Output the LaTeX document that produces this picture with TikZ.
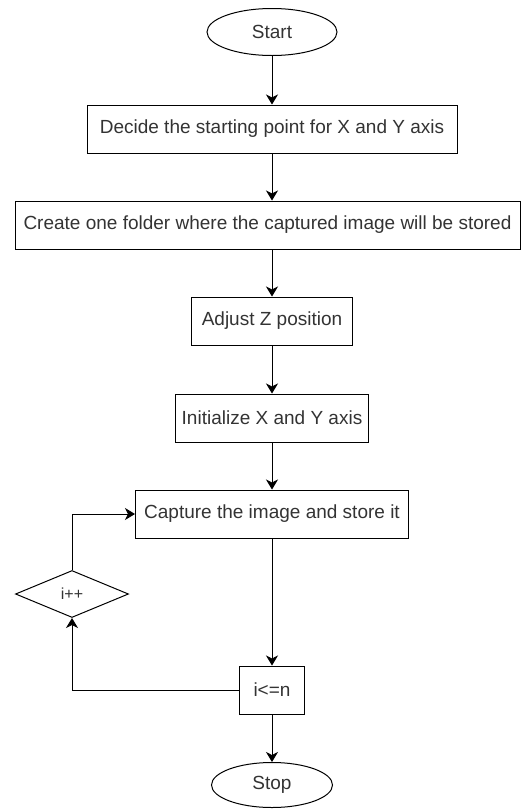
\documentclass[tikz,border=0pt]{standalone}
\usepackage{fontspec}
\setmainfont{Liberation Sans}
\usepackage{xcolor}
\usepackage{tikz}
\usetikzlibrary{arrows.meta}
\usetikzlibrary{shapes.geometric, calc}

\tikzset{
    flowbox/.style={draw, line width=1pt, rectangle, minimum height=48pt, inner sep=0pt, text=black!80},
    termnode/.style={draw, line width=1pt, ellipse, inner sep=0pt, text=black!80},
    loopnode/.style={draw, line width=1pt, diamond, inner sep=0pt, text=black!80},
    flowarrow/.style={line width=1pt, -{Stealth[length=10pt,width=12pt,inset=3pt]}}
}

\begin{document}
\begin{tikzpicture}[x=1pt, y=-1pt, font=\fontsize{19}{22}\selectfont]
                \useasboundingbox (0,0) rectangle (521,809);
                % Steps
                \node[termnode, minimum width=130pt, minimum height=47pt] (start) at (272,32) {Start};
                \node[flowbox, minimum width=370pt] (decide) at (272,129) {Decide the starting point for X and Y axis};
                \node[flowbox, minimum width=505pt] (folder) at (267.5,225) {Create one folder where the captured image will be stored};
                \node[flowbox, minimum width=161pt] (adjust) at (272,321) {Adjust Z position};
                \node[flowbox, minimum width=193pt] (init) at (272,418) {Initialize X and Y axis};
                \node[flowbox, minimum width=273pt] (capture) at (272,514) {Capture the image and store it};
                \node[flowbox, minimum width=65pt] (check) at (272,690) {i<=n};
                \node[termnode, minimum width=121pt, minimum height=45pt] (stop) at (272,785) {Stop};
                % Loop
                \node[loopnode, minimum width=113pt, minimum height=47pt, font=\fontsize{16}{19}\selectfont] (incr) at (72,594) {i++};
                % Arrows
                \draw[flowarrow] (start) -- (decide);
                \draw[flowarrow] (decide.south) -- (decide.south |- folder.north);
                \draw[flowarrow] (decide.south |- folder.south) -- (adjust.north);
                \draw[flowarrow] (adjust) -- (init);
                \draw[flowarrow] (init) -- (capture);
                \draw[flowarrow] (capture) -- (check);
                \draw[flowarrow] (check) -- (stop);
                \draw[flowarrow] (check.west) -| (incr.south);
                \draw[flowarrow] (incr.north) |- (capture.west);
            \end{tikzpicture}
\end{document}
